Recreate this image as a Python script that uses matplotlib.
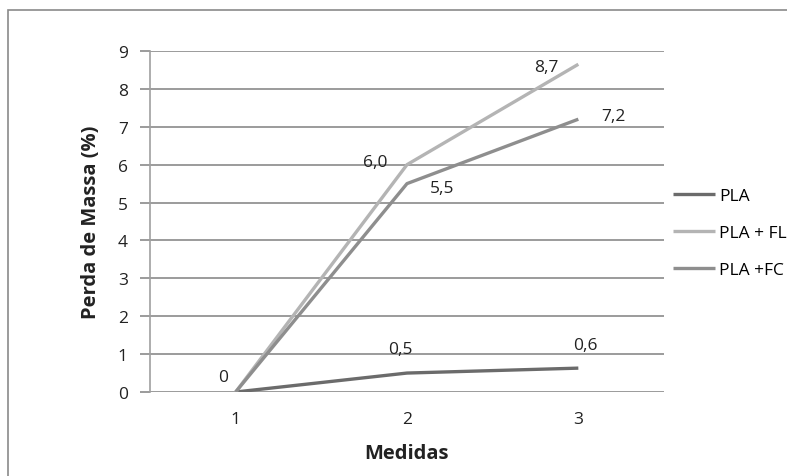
import matplotlib
matplotlib.use("Agg")
import matplotlib.pyplot as plt
from matplotlib.patches import Rectangle

categories = ["1", "2", "3"]
series_names = ["PLA", "PLA + FL", "PLA +FC"]
pla = [0, 0.5, 0.63]
pla_fl = [0, 6.0, 8.65]
pla_fc = [0, 5.5, 7.2]
pla_labels = ["0", "0,5", "0,6"]
pla_fl_labels = ["", "6,0", "8,7"]
pla_fc_labels = ["", "5,5", "7,2"]
yticks = list(range(0, 10))

colors = ["#6b6b6b", "#b4b4b4", "#8e8e8e"]

plt.rcParams['font.family'] = ['Open Sans', 'DejaVu Sans']

W, H = 787, 477
fig = plt.figure(figsize=(W / 100, H / 100), dpi=100)

# outer frame
fig.patches.append(Rectangle((8 / W, -0.1), 1.0, (H - 11) / H + 0.1, transform=fig.transFigure,
                             fill=False, edgecolor="#8a8a8a", linewidth=1.2))

ax = fig.add_axes([150 / W, (H - 393) / H, (664 - 150) / W, (393 - 52) / H])
x = [0.5, 1.5, 2.5]
for vals, c, name in zip([pla, pla_fl, pla_fc], colors, series_names):
    ax.plot(x, vals, color=c, linewidth=2.4, label=name, solid_capstyle="butt")

fs = 12.5
ax.set_xlim(0, 3)
ax.set_ylim(0, 9)
ax.set_yticks(yticks)
ax.set_yticklabels([str(v) for v in yticks], fontsize=fs, color="#222222")
ax.set_xticks(x)
ax.set_xticklabels(categories, fontsize=fs, color="#222222")
ax.tick_params(axis="x", length=0, pad=14)
ax.tick_params(axis="y", length=7, color="#8a8a8a", width=1.2, pad=9)
ax.grid(axis="y", color="#8a8a8a", linewidth=1.2)
ax.set_axisbelow(True)
for s in ["top", "right", "bottom"]:
    ax.spines[s].set_visible(False)
ax.spines["left"].set_color("#a0a0a0")
ax.spines["left"].set_linewidth(1.2)

ax.set_ylabel("Perda de Massa (%)", fontsize=14.5, fontweight="bold", color="#222222", labelpad=12)
ax.set_xlabel("Medidas", fontsize=14.5, fontweight="bold", color="#222222", labelpad=11)

# data labels
def lab(xi, yi, txt, dx, dy):
    if txt:
        ax.annotate(txt, (x[xi], yi), xytext=(dx, dy), textcoords="offset points",
                    ha="center", va="center", fontsize=fs, color="#222222")

lab(0, pla[0], pla_labels[0], -9, 11)
lab(1, pla[1], pla_labels[1], -5, 17)
lab(2, pla[2], pla_labels[2], 5, 17)
lab(1, pla_fl[1], pla_fl_labels[1], -23, 2)
lab(2, pla_fl[2], pla_fl_labels[2], -23, -2)
lab(1, pla_fc[1], pla_fc_labels[1], 25, -3)
lab(2, pla_fc[2], pla_fc_labels[2], 25, 2)

fig.legend(loc="upper left", bbox_to_anchor=(666 / W, 1 - 182 / H), frameon=False,
           fontsize=fs, handlelength=2.4, handletextpad=0.25, labelspacing=1.2,
           borderaxespad=0)

fig.savefig("out.png", dpi=100, facecolor="white")
